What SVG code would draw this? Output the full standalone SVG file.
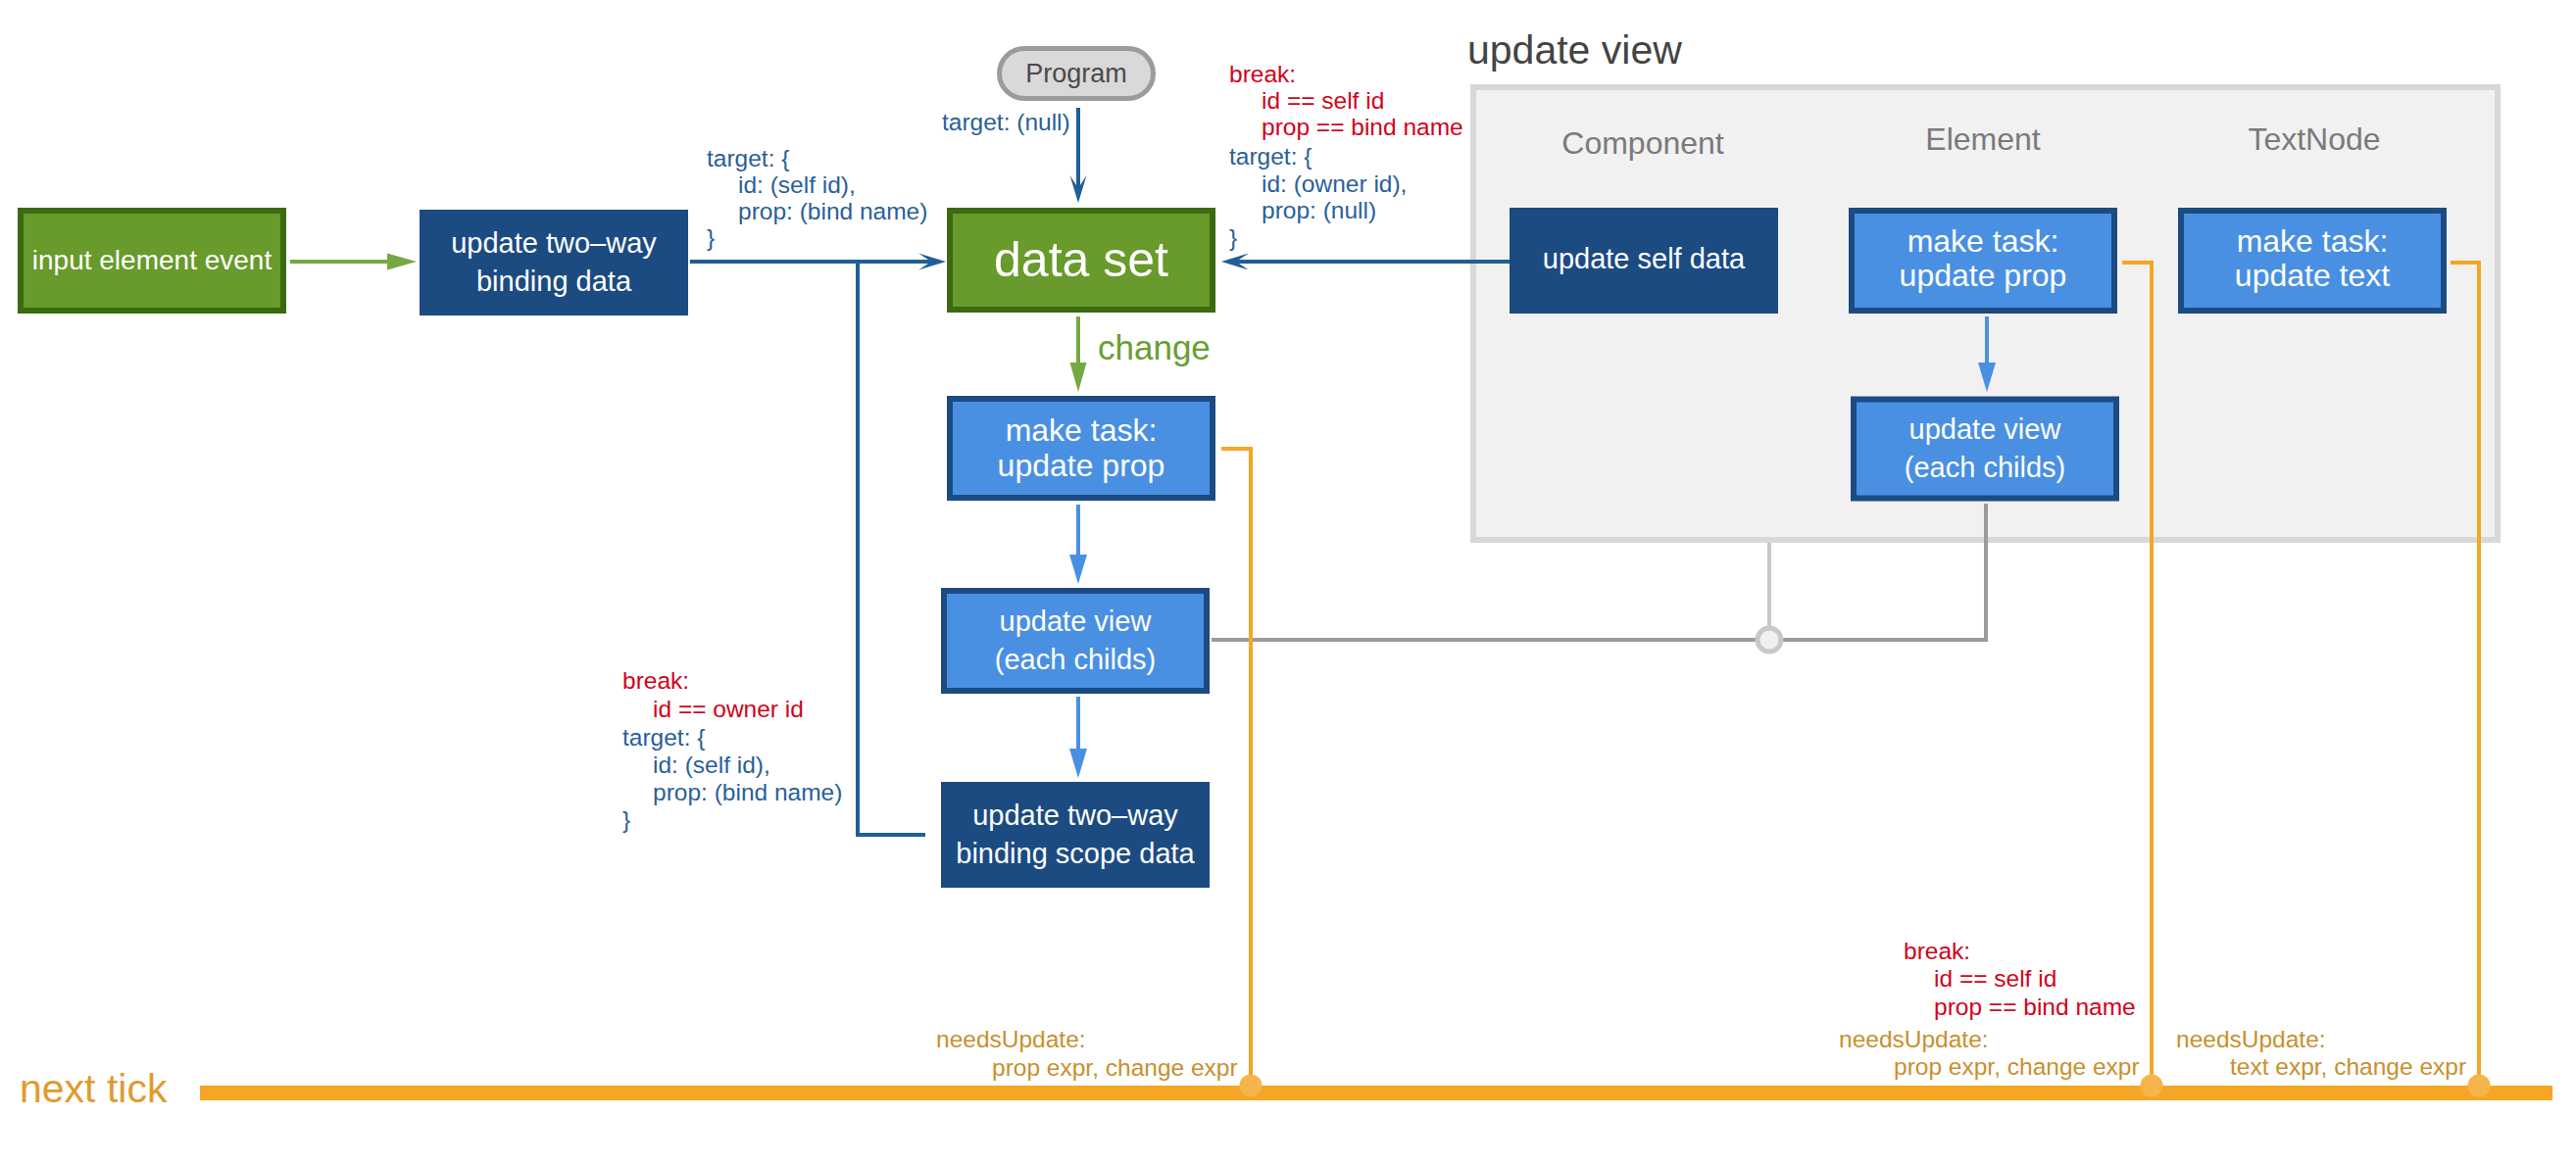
<svg xmlns="http://www.w3.org/2000/svg" width="2628" height="1188" viewBox="0 0 2628 1188">
<defs>
<style>
text{font-family:"Liberation Sans",Arial,sans-serif}
.white{fill:#ffffff}
.dark{fill:#1c4b82}
.light{fill:#4a90e2;stroke:#1c4b82;stroke-width:6}
.green{fill:#689a2c;stroke:#3b6a10;stroke-width:6}
.bt{font-size:29px;fill:#ffffff;text-anchor:middle}
.mt{font-size:32px;fill:#ffffff;text-anchor:middle}
.ann{font-size:24.5px;fill:#2a5f98}
.red{fill:#d0021b}
.gold{font-size:24.5px;fill:#c8902e}
.head{font-size:32px;fill:#7a7a7a;text-anchor:middle}
.cb{fill:none;stroke:#1f5f96;stroke-width:4}
.cl{fill:none;stroke:#4a90e2;stroke-width:4}
.cg{fill:none;stroke:#75a840;stroke-width:4}
.co{fill:none;stroke:#f5a623;stroke-width:4}
</style>
<marker id="ah-dark" viewBox="-30 -10 32 20" refX="-12" refY="0" markerWidth="32" markerHeight="20" markerUnits="userSpaceOnUse" orient="auto">
<path d="M0,0 L-28,-8.5 L-15,0 L-28,8.5 Z" fill="#1f5f96"/>
</marker>
<marker id="ah-green" viewBox="-32 -10 34 20" refX="-20" refY="0" markerWidth="34" markerHeight="20" markerUnits="userSpaceOnUse" orient="auto">
<path d="M0,0 L-30,-8.5 L-30,8.5 Z" fill="#75a840"/>
</marker>
<marker id="ah-light" viewBox="-32 -10 34 20" refX="-20" refY="0" markerWidth="34" markerHeight="20" markerUnits="userSpaceOnUse" orient="auto">
<path d="M0,0 L-30,-9 L-30,9 Z" fill="#4a90e2"/>
</marker>
</defs>
<rect width="2628" height="1188" fill="#ffffff"/>

<g id="update-view-group">
<rect x="1503" y="89" width="1045" height="462" fill="#f1f1f1" stroke="#d8d8d8" stroke-width="6"/>
<text x="1497" y="65" font-size="41" fill="#444444">update view</text>
<text class="head" x="1676" y="157">Component</text>
<text class="head" x="2023" y="153">Element</text>
<text class="head" x="2361" y="153">TextNode</text>
</g>

<g id="connectors">
<path class="cg" d="M296,267 H405" marker-end="url(#ah-green)"/>
<path class="cb" d="M704,267 H953" marker-end="url(#ah-dark)"/>
<path class="cb" d="M944,852 H875 V267"/>
<path class="cb" d="M1100,110 V195" marker-end="url(#ah-dark)"/>
<path class="cb" d="M1540,267 H1258" marker-end="url(#ah-dark)"/>
<path class="cg" d="M1100,323 V380" marker-end="url(#ah-green)"/>
<path class="cl" d="M1100,515 V576" marker-end="url(#ah-light)"/>
<path class="cl" d="M1100,711 V774" marker-end="url(#ah-light)"/>
<path class="cl" d="M2027,323 V380" marker-end="url(#ah-light)"/>
<path d="M1236,653 H2026 V514" fill="none" stroke="#9b9b9b" stroke-width="4"/>
<path d="M1805,554 V641" fill="none" stroke="#c8c8c8" stroke-width="4"/>
<circle cx="1805" cy="653" r="12" fill="#f0f0f0" stroke="#c8c8c8" stroke-width="5"/>
<path class="co" d="M1246,458 H1276 V1108"/>
<path class="co" d="M2165,268 H2195 V1108"/>
<path class="co" d="M2500,268 H2529 V1108"/>
</g>

<g id="next-tick">
<rect x="204" y="1108" width="2400" height="15" fill="#f5a623"/>
<circle cx="1276" cy="1108" r="11.5" fill="#f7b44a"/>
<circle cx="2195" cy="1108" r="11.5" fill="#f7b44a"/>
<circle cx="2529" cy="1108" r="11.5" fill="#f7b44a"/>
<text x="20" y="1125" font-size="41" fill="#e09b2d">next tick</text>
</g>

<g id="input-element-event">
<rect class="green" x="21" y="215" width="268" height="102"/>
<text x="155" y="275" font-size="28" class="white" text-anchor="middle">input element event</text>
</g>

<g id="update-two-way-binding-data">
<rect class="dark" x="428" y="214" width="274" height="108"/>
<text class="bt" x="565" y="258">update two–way</text>
<text class="bt" x="565" y="297">binding data</text>
</g>

<g id="program">
<rect x="1019.5" y="49.5" width="157" height="51" rx="25.5" fill="#d9d9d9" stroke="#9b9b9b" stroke-width="5"/>
<text x="1098" y="84" font-size="27" fill="#4a4a4a" text-anchor="middle">Program</text>
</g>

<g id="data-set">
<rect class="green" x="969" y="215" width="268" height="101"/>
<text x="1103" y="282" font-size="50" class="white" text-anchor="middle">data set</text>
</g>

<g id="make-task-update-prop">
<rect class="light" x="969" y="407" width="268" height="101"/>
<text class="mt" x="1103" y="450">make task:</text>
<text class="mt" x="1103" y="486">update prop</text>
</g>

<g id="update-view-each-childs">
<rect class="light" x="963" y="603" width="268" height="102"/>
<text class="bt" x="1097" y="644">update view</text>
<text class="bt" x="1097" y="683">(each childs)</text>
</g>

<g id="update-two-way-binding-scope-data">
<rect class="dark" x="960" y="798" width="274" height="108"/>
<text class="bt" x="1097" y="842">update two–way</text>
<text class="bt" x="1097" y="881">binding scope data</text>
</g>

<g id="update-self-data">
<rect class="dark" x="1540" y="212" width="274" height="108"/>
<text class="bt" x="1677" y="274">update self data</text>
</g>

<g id="element-make-task">
<rect class="light" x="1889" y="215" width="268" height="102"/>
<text class="mt" x="2023" y="257">make task:</text>
<text class="mt" x="2023" y="292">update prop</text>
</g>

<g id="element-update-view">
<rect class="light" x="1891" y="407.5" width="268" height="101"/>
<text class="bt" x="2025" y="448">update view</text>
<text class="bt" x="2025" y="487">(each childs)</text>
</g>

<g id="textnode-make-task">
<rect class="light" x="2225" y="215" width="268" height="102"/>
<text class="mt" x="2359" y="257">make task:</text>
<text class="mt" x="2359" y="292">update text</text>
</g>

<g id="labels">
<text class="ann" x="721" y="170">target: {</text>
<text class="ann" x="753" y="197">id: (self id),</text>
<text class="ann" x="753" y="224">prop: (bind name)</text>
<text class="ann" x="721" y="251">}</text>

<text class="ann" x="961" y="133">target: (null)</text>

<text class="ann red" x="1254" y="84">break:</text>
<text class="ann red" x="1287" y="111">id == self id</text>
<text class="ann red" x="1287" y="138">prop == bind name</text>
<text class="ann" x="1254" y="168">target: {</text>
<text class="ann" x="1287" y="196">id: (owner id),</text>
<text class="ann" x="1287" y="223">prop: (null)</text>
<text class="ann" x="1254" y="251">}</text>

<text x="1120" y="367" font-size="35" fill="#6a9e30">change</text>

<text class="ann red" x="635" y="703">break:</text>
<text class="ann red" x="666" y="732">id == owner id</text>
<text class="ann" x="635" y="761">target: {</text>
<text class="ann" x="666" y="789">id: (self id),</text>
<text class="ann" x="666" y="817">prop: (bind name)</text>
<text class="ann" x="635" y="845">}</text>

<text class="gold" x="955" y="1069">needsUpdate:</text>
<text class="gold" x="1012" y="1098">prop expr, change expr</text>

<text class="ann red" x="1942" y="979">break:</text>
<text class="ann red" x="1973" y="1007">id == self id</text>
<text class="ann red" x="1973" y="1036">prop == bind name</text>
<text class="gold" x="1876" y="1069">needsUpdate:</text>
<text class="gold" x="1932" y="1097">prop expr, change expr</text>

<text class="gold" x="2220" y="1069">needsUpdate:</text>
<text class="gold" x="2275" y="1097">text expr, change expr</text>
</g>
</svg>
